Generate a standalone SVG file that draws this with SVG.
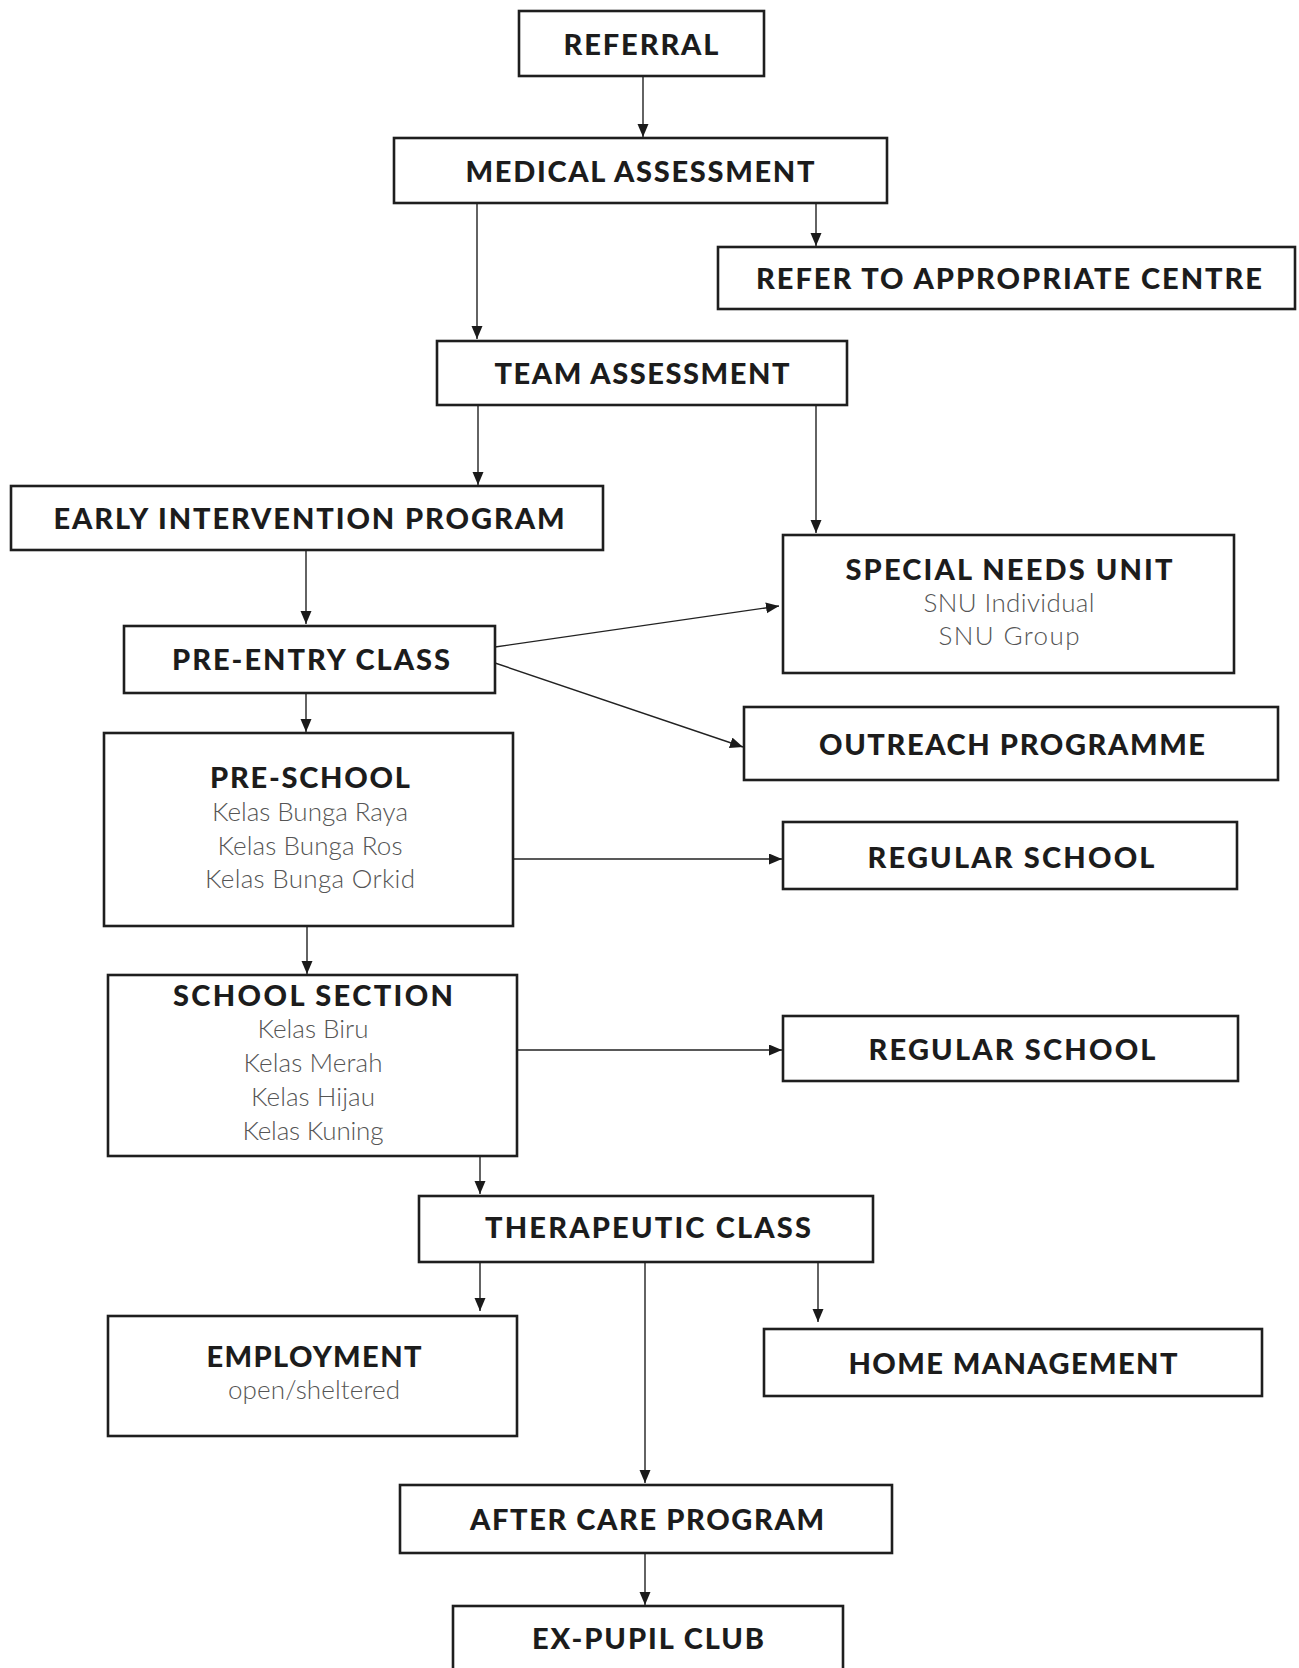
<svg xmlns="http://www.w3.org/2000/svg" width="1299" height="1668" viewBox="0 0 1299 1668">
<style>
.box{fill:#fff;stroke:#1e1e1e;stroke-width:2.6}
.t{font-family:Lato,"Open Sans","Liberation Sans",sans-serif;font-weight:900;font-size:29px;fill:#1c1c1c;text-anchor:middle}
.s{font-family:Lato,"Open Sans","Liberation Sans",sans-serif;font-weight:300;font-size:26px;fill:#555;text-anchor:middle}
.c{stroke:#222;stroke-width:1.4;fill:none;marker-end:url(#ah)}
</style>
<defs>
<marker id="ah" markerUnits="userSpaceOnUse" markerWidth="15" markerHeight="12" refX="13" refY="5.5" orient="auto">
<path d="M0,0 L13,5.5 L0,11 z" fill="#1a1a1a"/>
</marker>
</defs>
<rect width="1299" height="1668" fill="#fff"/>
<g id="connectors">
<line class="c" x1="643" y1="76" x2="643" y2="137"/>
<line class="c" x1="816" y1="203" x2="816" y2="246"/>
<line class="c" x1="477" y1="203" x2="477" y2="339"/>
<line class="c" x1="478" y1="404" x2="478" y2="485"/>
<line class="c" x1="816" y1="404" x2="816" y2="533"/>
<line class="c" x1="306" y1="550" x2="306" y2="624"/>
<line class="c" x1="495" y1="647" x2="779" y2="606"/>
<line class="c" x1="495" y1="663" x2="743" y2="747"/>
<line class="c" x1="306" y1="693" x2="306" y2="732"/>
<line class="c" x1="513" y1="859" x2="782" y2="859"/>
<line class="c" x1="307" y1="926" x2="307" y2="974"/>
<line class="c" x1="517" y1="1050" x2="782" y2="1050"/>
<line class="c" x1="480" y1="1156" x2="480" y2="1194"/>
<line class="c" x1="480" y1="1262" x2="480" y2="1311"/>
<line class="c" x1="818" y1="1262" x2="818" y2="1322"/>
<line class="c" x1="645" y1="1262" x2="645" y2="1483"/>
<line class="c" x1="645" y1="1553" x2="645" y2="1605"/>
</g>
<g id="referral"><rect class="box" x="519" y="11" width="245" height="65"/><text class="t" x="641" y="55" textLength="155" lengthAdjust="spacing">REFERRAL</text></g>
<g id="medical"><rect class="box" x="394" y="138" width="493" height="65"/><text class="t" x="640" y="182" textLength="349" lengthAdjust="spacing">MEDICAL ASSESSMENT</text></g>
<g id="refer"><rect class="box" x="718" y="247" width="577" height="62"/><text class="t" x="1009" y="289" textLength="506" lengthAdjust="spacing">REFER TO APPROPRIATE CENTRE</text></g>
<g id="team"><rect class="box" x="437" y="341" width="410" height="64"/><text class="t" x="642" y="384" textLength="295" lengthAdjust="spacing">TEAM ASSESSMENT</text></g>
<g id="early"><rect class="box" x="11" y="486" width="592" height="64"/><text class="t" x="309" y="529" textLength="511" lengthAdjust="spacing">EARLY INTERVENTION PROGRAM</text></g>
<g id="snu"><rect class="box" x="783" y="535" width="451" height="138"/><text class="t" x="1009" y="580" textLength="327" lengthAdjust="spacing">SPECIAL NEEDS UNIT</text><text class="s" x="1009" y="612" textLength="171" lengthAdjust="spacing">SNU Individual</text><text class="s" x="1009" y="645" textLength="141" lengthAdjust="spacing">SNU Group</text></g>
<g id="preentry"><rect class="box" x="124" y="626" width="371" height="67"/><text class="t" x="311" y="670" textLength="278" lengthAdjust="spacing">PRE-ENTRY CLASS</text></g>
<g id="outreach"><rect class="box" x="744" y="707" width="534" height="73"/><text class="t" x="1012" y="755" textLength="386" lengthAdjust="spacing">OUTREACH PROGRAMME</text></g>
<g id="preschool"><rect class="box" x="104" y="733" width="409" height="193"/><text class="t" x="310" y="788" textLength="200" lengthAdjust="spacing">PRE-SCHOOL</text><text class="s" x="310" y="821" textLength="196" lengthAdjust="spacing">Kelas Bunga Raya</text><text class="s" x="310" y="855" textLength="185" lengthAdjust="spacing">Kelas Bunga Ros</text><text class="s" x="310" y="888" textLength="210" lengthAdjust="spacing">Kelas Bunga Orkid</text></g>
<g id="regular1"><rect class="box" x="783" y="822" width="454" height="67"/><text class="t" x="1011" y="868" textLength="287" lengthAdjust="spacing">REGULAR SCHOOL</text></g>
<g id="school"><rect class="box" x="108" y="975" width="409" height="181"/><text class="t" x="313" y="1006" textLength="280" lengthAdjust="spacing">SCHOOL SECTION</text><text class="s" x="313" y="1038" textLength="111" lengthAdjust="spacing">Kelas Biru</text><text class="s" x="313" y="1072" textLength="139" lengthAdjust="spacing">Kelas Merah</text><text class="s" x="313" y="1106" textLength="124" lengthAdjust="spacing">Kelas Hijau</text><text class="s" x="313" y="1140" textLength="141" lengthAdjust="spacing">Kelas Kuning</text></g>
<g id="regular2"><rect class="box" x="783" y="1016" width="455" height="65"/><text class="t" x="1012" y="1060" textLength="287" lengthAdjust="spacing">REGULAR SCHOOL</text></g>
<g id="therapeutic"><rect class="box" x="419" y="1196" width="454" height="66"/><text class="t" x="648" y="1238" textLength="326" lengthAdjust="spacing">THERAPEUTIC CLASS</text></g>
<g id="employment"><rect class="box" x="108" y="1316" width="409" height="120"/><text class="t" x="314" y="1367" textLength="215" lengthAdjust="spacing">EMPLOYMENT</text><text class="s" x="314" y="1399" textLength="172" lengthAdjust="spacing">open/sheltered</text></g>
<g id="home"><rect class="box" x="764" y="1329" width="498" height="67"/><text class="t" x="1013" y="1374" textLength="329" lengthAdjust="spacing">HOME MANAGEMENT</text></g>
<g id="aftercare"><rect class="box" x="400" y="1485" width="492" height="68"/><text class="t" x="647" y="1530" textLength="354" lengthAdjust="spacing">AFTER CARE PROGRAM</text></g>
<g id="expupil"><rect class="box" x="453" y="1606" width="390" height="80"/><text class="t" x="648" y="1649" textLength="232" lengthAdjust="spacing">EX-PUPIL CLUB</text></g>
</svg>
